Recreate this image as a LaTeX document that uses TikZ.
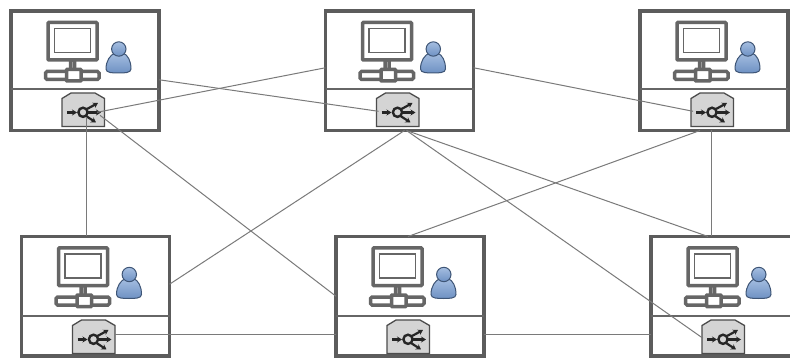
\documentclass[tikz,border=0pt]{standalone}
\usetikzlibrary{calc,arrows.meta}
\definecolor{frame}{gray}{0.36}
\definecolor{icon}{gray}{0.40}
\definecolor{wire}{gray}{0.48}
\definecolor{swfill}{gray}{0.83}
\definecolor{userlight}{RGB}{165,190,225}
\definecolor{userfill}{RGB}{110,145,195}
\definecolor{userline}{RGB}{62,85,118}
\tikzset{
  stationbox/.style={draw=frame,line width=3.4pt,fill=white,minimum width=148pt,minimum height=119.5pt,inner sep=0pt,outer sep=0pt,anchor=north west},
  divider/.style={draw=icon,line width=1.1pt},
  monitorpart/.style={draw=icon,line width=3.5pt,fill=white,rounded corners=0.8pt},
  userpart/.style={draw=userline,line width=1pt,top color=userlight,bottom color=userfill},
  switchbody/.style={draw=black!70,line width=1.3pt,fill=swfill},
  swarrow/.style={draw=black!85,line width=2.2pt,-{Stealth[length=5pt,width=6pt]}},
  wireline/.style={draw=wire,line width=1pt},
  hub/.style={inner sep=0pt,minimum size=2pt,outer sep=0pt}
}
\newcommand{\stationicon}[4]{%
  % #1 name, #2 x, #3 y, #4 extra shift of lower part
  \node[stationbox] (#1) at (#2,#3) {};
  \begin{scope}[shift={(#2,#3)}]
    \draw[divider] (0,78+#4) -- (148,78+#4);
    % base and stand
    \draw[monitorpart] (59.5,49) rectangle (63.5,60);
    \draw[monitorpart,rounded corners=1.5pt] (34.5,60.5) rectangle (88,68.5);
    \draw[monitorpart,rounded corners=0.5pt] (55.5,58.5) rectangle (70,70);
    % monitor
    \draw[monitorpart] (37,11.5) rectangle (86,49);
    \draw[draw=icon,line width=1.7pt] (43.5,17.5) rectangle (79.5,41.5);
    % user
    \draw[userpart] (95,58) .. controls (95,50) and (99,44) .. (104,42) -- (112,42)
      .. controls (117,44) and (120,50) .. (120,58)
      .. controls (120,62) and (113,62) .. (107.5,62)
      .. controls (102,62) and (95,62) .. (95,58) -- cycle;
    \draw[userpart] (107.8,38) circle (7.2pt);
    % switch
    \begin{scope}[yshift=-#4 pt]
    \draw[switchbody] (51,87.5) -- (60,82) -- (84,82) -- (93.5,87.5) -- (93.5,115.5) -- (51,115.5) -- cycle;
    \draw[swarrow] (56,101.5) -- (66,101.5);
    \draw[black!85,line width=2.4pt,fill=swfill] (72,101.3) circle (4.6pt);
    \draw[swarrow] (76,98) -- (87,92);
    \draw[swarrow] (77,101.5) -- (90,101.5);
    \draw[swarrow] (75,105) -- (85,111.5);
    \node[hub] (#1sw) at (72,101.3) {};
    \end{scope}
  \end{scope}}
\begin{document}
\begin{tikzpicture}[x=1pt,y=-1pt]
  \useasboundingbox (0,0) rectangle (790,358);
  \clip (0,0) rectangle (790,358);
  \fill[white] (0,0) rectangle (790,358);
  \stationicon{a}{11}{11}{0}
  \stationicon{b}{325.5}{11}{0}
  \stationicon{c}{640}{11}{0}
  \stationicon{d}{21.5}{236.5}{1.5}
  \stationicon{e}{336}{236.5}{1.5}
  \stationicon{f}{651}{236.5}{1.5}
  % connectors
  \draw[wireline] ($(a.east)+(0,9)$) -- ($(bsw)+(-19,-1)$);
  \draw[wireline] ($(b.west)+(0,-3)$) -- ($(asw)+(14,0)$);
  \draw[wireline] ($(b.east)+(0,-3)$) -- ($(csw)+(-19,-1)$);
  \draw[wireline] ($(asw)+(3,5)$) -- ($(asw |- d.north)+(3,0)$);
  \draw[wireline] ($(asw)+(17,3)$) -- (e.west);
  \draw[wireline] ($(b.south)+(5,0)$) -- ($(d.east)+(0,-12)$);
  \draw[wireline] ($(b.south)+(7,0)$) -- ($(fsw)+(-20,-1)$);
  \draw[wireline] ($(b.south)+(7,0)$) -- ($(f.north)+(-17,0)$);
  \draw[wireline] ($(c.south)+(-3,0)$) -- ($(f.north)+(-14,0)$);
  \draw[wireline] ($(c.south)+(-14,0)$) -- ($(e.north)+(-2,0)$);
  \draw[wireline] ($(dsw)+(21.5,-5)$) -- ($(e.west |- dsw)+(0,-5)$);
  \draw[wireline] ($(e.east |- dsw)+(0,-5)$) -- ($(f.west |- dsw)+(0,-5)$);
\end{tikzpicture}
\end{document}
